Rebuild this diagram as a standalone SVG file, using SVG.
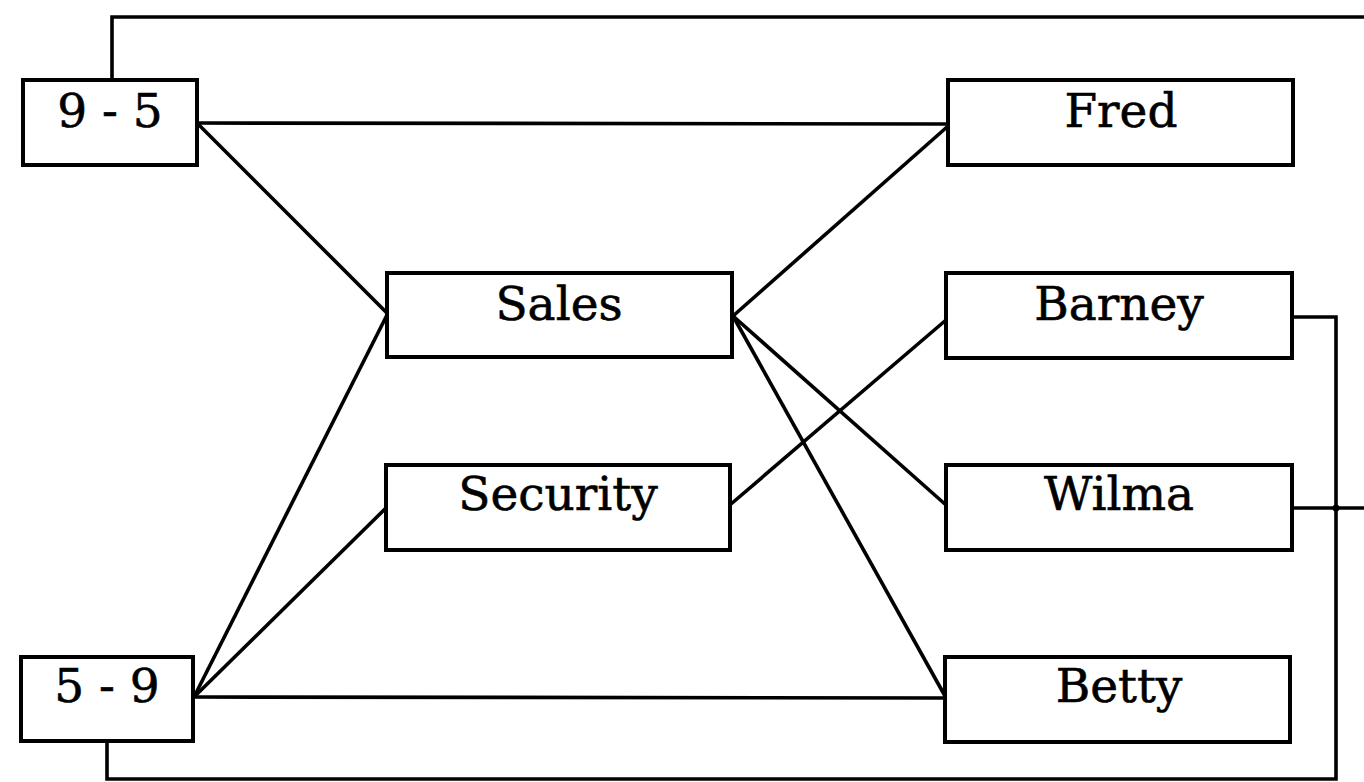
<svg xmlns="http://www.w3.org/2000/svg" width="1364" height="782" viewBox="0 0 1364 782">
<style>
.box{fill:#fff;stroke:#000;stroke-width:4}
.lbl{font-family:"DejaVu Serif","Liberation Serif",serif;font-size:47px;fill:#000;stroke:#000;stroke-width:0.6;text-anchor:middle}
.c{fill:none;stroke:#000;stroke-width:3.6;stroke-linejoin:miter}
</style>
<rect width="1364" height="782" fill="#fff"/>
<g id="connectors">
<polyline class="c" points="112,80 112,17 1364,17"/>
<polyline class="c" points="107,741 107,779 1336,779 1336,317 1292,317"/>
<line class="c" x1="1292" y1="508" x2="1364" y2="508"/>
<circle cx="1336" cy="508" r="3.5" fill="#000"/>
<line class="c" x1="197" y1="123" x2="947" y2="124"/>
<line class="c" x1="197" y1="123" x2="387" y2="313"/>
<line class="c" x1="194" y1="697" x2="387" y2="315"/>
<line class="c" x1="194" y1="697" x2="386" y2="508"/>
<line class="c" x1="194" y1="697" x2="945" y2="698"/>
<line class="c" x1="733" y1="316" x2="947" y2="127"/>
<line class="c" x1="733" y1="316" x2="946" y2="505"/>
<line class="c" x1="733" y1="316" x2="945" y2="696"/>
<line class="c" x1="731" y1="504" x2="946" y2="320"/>
</g>
<g id="n95"><rect class="box" x="23" y="80" width="174" height="85"/><text class="lbl" x="110" y="127">9 - 5</text></g>
<g id="n59"><rect class="box" x="21" y="657" width="172" height="84"/><text class="lbl" x="107" y="702">5 - 9</text></g>
<g id="sales"><rect class="box" x="387" y="273" width="345" height="84"/><text class="lbl" x="559" y="320">Sales</text></g>
<g id="security"><rect class="box" x="386" y="465" width="344" height="85"/><text class="lbl" x="558" y="510">Security</text></g>
<g id="fred"><rect class="box" x="948" y="80" width="345" height="85"/><text class="lbl" x="1121" y="127">Fred</text></g>
<g id="barney"><rect class="box" x="946" y="273" width="346" height="85"/><text class="lbl" x="1119" y="320">Barney</text></g>
<g id="wilma"><rect class="box" x="946" y="465" width="346" height="85"/><text class="lbl" x="1119" y="510">Wilma</text></g>
<g id="betty"><rect class="box" x="945" y="657" width="345" height="85"/><text class="lbl" x="1119" y="702">Betty</text></g>
</svg>
